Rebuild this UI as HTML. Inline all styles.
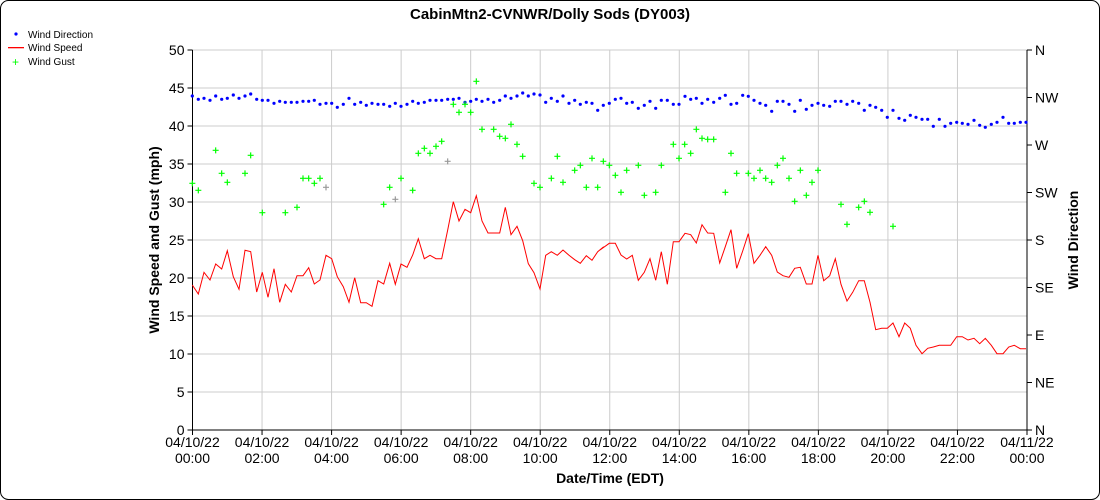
<!DOCTYPE html>
<html><head><meta charset="utf-8"><style>
html,body{margin:0;padding:0;background:#fff;}
svg{display:block;font-family:"Liberation Sans",sans-serif;}
</style></head><body>
<svg id="s" width="1100" height="500" xmlns="http://www.w3.org/2000/svg">
<rect x="0.5" y="0.5" width="1099" height="499" rx="8" fill="#fff" stroke="#000"/>
<text x="550" y="19" text-anchor="middle" font-size="15" font-weight="bold">CabinMtn2-CVNWR/Dolly Sods (DY003)</text>
<circle cx="16" cy="34" r="1.6" fill="#00f"/>
<text x="28" y="38" font-size="10">Wind Direction</text>
<rect x="8" y="47" width="16" height="1.3" fill="#f00"/>
<text x="28" y="51" font-size="10">Wind Speed</text>
<text x="15.5" y="66" font-size="12" fill="#0f0" text-anchor="middle">+</text>
<text x="28" y="65" font-size="10">Wind Gust</text>
<g id="g"></g>
<text transform="translate(159,240) rotate(-90)" text-anchor="middle" font-size="14" font-weight="bold">Wind Speed and Gust (mph)</text>
<text transform="translate(1078,240) rotate(-90)" text-anchor="middle" font-size="14" font-weight="bold">Wind Direction</text>
<text x="610" y="483" text-anchor="middle" font-size="14" font-weight="bold">Date/Time (EDT)</text>
</svg>
<script>
var g=document.getElementById('g'),h='';
var X0=192.5,X1=1027,Y0=430,Y1=50;
for(var v=0;v<=50;v+=5){var y=Y0-7.6*v;
 if(v>0)h+='<line x1="'+X0+'" x2="'+X1+'" y1="'+y+'" y2="'+y+'" stroke="#ccc"/>';
 h+='<line x1="'+(X0-5)+'" x2="'+X0+'" y1="'+y+'" y2="'+y+'" stroke="#000"/>';
 h+='<text x="'+(X0-8)+'" y="'+(y+5)+'" text-anchor="end" font-size="14">'+v+'</text>';}
var d=['N','NE','E','SE','S','SW','W','NW','N'];
for(var i=0;i<9;i++){var y=Y0-47.5*i;
 h+='<line x1="'+X1+'" x2="'+(X1+5)+'" y1="'+y+'" y2="'+y+'" stroke="#000"/>';
 h+='<text x="'+(X1+8)+'" y="'+(y+5)+'" font-size="14">'+d[i]+'</text>';}
for(var k=0;k<=12;k++){var x=X0+(X1-X0)/12*k;
 if(k>0&&k<12)h+='<line x1="'+x+'" x2="'+x+'" y1="'+Y1+'" y2="'+Y0+'" stroke="#ccc"/>';
 h+='<line x1="'+x+'" x2="'+x+'" y1="'+Y0+'" y2="'+(Y0+5)+'" stroke="#000"/>';
 var hh=(k*2)%24;hh=(hh<10?'0':'')+hh;
 h+='<text x="'+x+'" y="'+(Y0+17)+'" text-anchor="middle" font-size="14">'+(k==12?'04/11/22':'04/10/22')+'</text>';
 h+='<text x="'+x+'" y="'+(Y0+33)+'" text-anchor="middle" font-size="14">'+hh+':00</text>';}
h+='<line x1="'+X0+'" x2="'+X0+'" y1="'+Y1+'" y2="'+Y0+'" stroke="#000"/>';
h+='<line x1="'+X1+'" x2="'+X1+'" y1="'+Y1+'" y2="'+Y0+'" stroke="#000"/>';
h+='<line x1="'+X0+'" x2="'+X1+'" y1="'+Y0+'" y2="'+Y0+'" stroke="#000"/>';
function cv(a,ox,oy){var r=[];for(var i=0;i<a.length;i+=2){r.push([ox+a[i]/3,oy+a[i+1]/3]);}return r;}
var r1=[37,645,55,672,72,607,90,630,107,582,125,597,142,542,160,620,177,658,195,541,212,545,230,666,247,607,264,682,282,596,299,697,316,643,334,666,351,617,369,617,386,593,403,642,420,630,438,556,455,566,472,620,490,650,507,697,524,623,542,698,559,698,576,709,594,632,611,642,629,580,646,643,663,582,681,592,698,555,715,506,733,566,750,556,768,566,785,566,803,480,820,395,837,453,855,418,872,428,889,377,906,453,924,489,941,489,959,489,976,412,993,494,1011,469,1028,512,1045,581,1062,608,1080,657,1097,556,1114,545,1132,556,1149,540,1167,556,1184,569,1201,580,1219,557,1236,571,1253,545,1271,530];
var r2=[0,540,28,520,46,520,63,555,80,567,97,556,115,631,133,607,150,566,167,631,184,545,202,643,220,515,237,515,255,490,272,494,289,519,306,464,323,489,341,490,359,579,376,530,393,479,410,595,428,543,445,491,462,580,480,556,497,530,515,556,532,606,549,617,567,622,584,595,601,592,619,642,636,642,654,556,671,632,689,617,706,566,723,643,741,693,758,667,776,632,793,632,810,697,827,779,845,775,862,775,879,759,897,800,914,759,931,775,948,826,966,851,983,835,1000,831,1018,826,1035,826,1052,826,1070,800,1087,800,1104,810,1122,805,1139,821,1156,805,1174,826,1191,851,1209,851,1226,831,1243,826,1261,836,1278,836];
var b1=[37,78,55,88,72,85,90,91,107,78,125,88,142,85,160,75,177,85,195,78,212,72,230,88,247,91,264,91,282,100,299,94,316,97,334,97,351,97,369,94,386,94,403,91,420,103,438,100,455,100,472,112,490,103,507,85,524,103,542,97,559,106,576,100,594,103,611,103,629,109,646,100,663,109,681,103,698,94,715,100,733,97,750,91,768,91,785,91,803,88,820,88,837,85,855,97,872,94,889,88,906,94,924,88,941,97,959,91,976,78,993,85,1011,78,1028,69,1045,78,1062,72,1080,75,1097,97,1114,85,1132,94,1149,78,1167,100,1184,91,1201,103,1219,97,1236,100,1253,121];
var b2=[10,106,28,100,46,88,63,85,80,100,97,97,115,115,133,106,150,94,167,115,184,91,202,91,220,103,237,103,255,79,272,88,289,85,306,100,323,88,341,97,359,85,376,76,393,103,410,100,428,76,445,79,462,91,480,100,497,106,515,124,532,94,549,94,567,103,584,124,601,91,619,118,636,106,654,100,671,106,689,109,706,94,723,94,741,103,758,94,776,100,793,121,810,106,827,112,845,121,862,142,879,121,897,145,914,151,931,136,948,142,966,148,983,148,1000,169,1018,148,1035,169,1052,160,1070,157,1087,160,1104,163,1122,151,1139,166,1156,172,1174,163,1191,157,1209,142,1226,160,1243,160,1261,157,1278,157];
var g1=[37,340,55,361,107,241,125,310,142,337,195,310,212,256,247,428,316,428,351,412,369,325,386,325,403,340,420,325,438,352,611,403,629,352,646,388,663,325,698,361,715,250,733,235,750,250,768,229,785,214,803,274,820,103,837,127,855,103,872,127,889,34,906,178,941,178,959,199,976,205,993,163,1011,223,1028,259,1062,340,1080,352,1114,325,1132,259,1149,337,1184,301,1201,286,1219,352,1236,265,1253,352];
var g2=[10,274,28,286,46,316,63,367,80,301,115,286,133,376,167,367,184,286,220,223,237,265,254,223,272,250,289,178,306,205,323,208,341,208,376,367,393,250,410,310,445,310,462,325,480,301,497,325,515,337,532,286,549,265,567,325,584,394,601,301,619,376,636,337,654,301,723,403,741,463,776,412,793,394,810,427,879,469];
var R=cv(r1,180,70).concat(cv(r2,600,70));
h+='<polyline fill="none" stroke="#f00" stroke-width="1" points="'+R.map(function(p){return p[0].toFixed(1)+','+p[1].toFixed(1)}).join(' ')+'"/>';
var B=cv(b1,180,70).concat(cv(b2,600,70));
B.forEach(function(p){h+='<circle cx="'+p[0].toFixed(1)+'" cy="'+p[1].toFixed(1)+'" r="1.6" fill="#00f"/>';});
var G=cv(g1,180,70).concat(cv(g2,600,70));
var grey={'326':1,'448':1,'395':1};
G.forEach(function(p){var c=grey[Math.round(p[0])]?'#999':'#0f0';
 h+='<path d="M'+(p[0]-3)+','+p[1]+'h6M'+p[0]+','+(p[1]-3)+'v6" stroke="'+c+'" stroke-width="1.2"/>';});
g.innerHTML=h;
</script>
</body></html>
